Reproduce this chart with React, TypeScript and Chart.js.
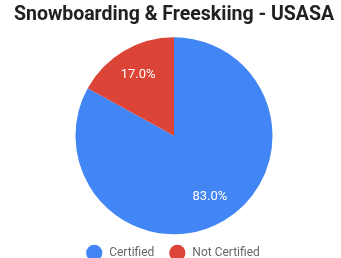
import React, { useEffect, useRef } from "react";
import { Chart, registerables } from "chart.js";

Chart.register(...registerables);

const titleText = "Snowboarding & Freeskiing - USASA";
const categories = ["Certified", "Not Certified"];
const values = [83.0, 17.0];
const colors = ["#4285f4", "#db4437"];

const pctLabels = {
  id: "pctLabels",
  afterDatasetsDraw(chart: any) {
    const { ctx } = chart;
    const meta = chart.getDatasetMeta(0);
    const data = chart.data.datasets[0].data as number[];
    const total = data.reduce((a, b) => a + b, 0);
    ctx.save();
    ctx.fillStyle = "#ffffff";
    ctx.font = "13px Roboto";
    ctx.textAlign = "center";
    ctx.textBaseline = "middle";
    meta.data.forEach((arc: any, i: number) => {
      const { x, y, startAngle, endAngle, outerRadius } = arc.getProps(
        ["x", "y", "startAngle", "endAngle", "outerRadius"],
        true
      );
      const mid = (startAngle + endAngle) / 2;
      const r = outerRadius * 0.715;
      const pct = ((data[i] / total) * 100).toFixed(1) + "%";
      ctx.fillText(pct, x + Math.cos(mid) * r, y + Math.sin(mid) * r);
    });
    ctx.restore();
  },
};

export default function App() {
  const ref = useRef<HTMLCanvasElement | null>(null);
  useEffect(() => {
    if (!ref.current) return;
    const chart = new Chart(ref.current, {
      type: "pie",
      data: {
        labels: categories,
        datasets: [
          {
            data: values,
            backgroundColor: colors,
            borderWidth: 0,
            radius: 98.5,
            clip: false,
          } as any,
        ],
      },
      options: {
        animation: false,
        responsive: false,
        maintainAspectRatio: false,
        layout: { padding: { top: 0, bottom: 0, left: 7, right: 0 } },
        plugins: {
          title: {
            display: true,
            text: titleText,
            color: "#212121",
            font: { family: "Roboto", size: 19.5, weight: "bold" },
            padding: { top: 3.3, bottom: 16.8 },
          },
          legend: {
            position: "bottom",
            title: {
              display: true,
              text: " ",
              font: { size: 1 },
              padding: 0.4,
            },
            labels: {
              usePointStyle: true,
              pointStyle: "circle",
              boxWidth: 12,
              boxHeight: 11.5,
              padding: 17,
              color: "#666666",
              font: { family: "Roboto", size: 12 },
              generateLabels(chart: any) {
                const items = Chart.overrides.pie.plugins.legend.labels.generateLabels(chart);
                return items.map((it: any) => ({ ...it, text: " " + it.text }));
              },
            },
          },
          tooltip: { enabled: false },
        },
      },
      plugins: [pctLabels],
    });
    return () => chart.destroy();
  }, []);
  return (
    <div
      style={{
        position: "absolute",
        left: 0,
        top: 0,
        width: 341,
        height: 258,
        overflow: "hidden",
        background: "#fff",
      }}
    >
      <canvas ref={ref} width={341} height={269} style={{ display: "block" }} />
    </div>
  );
}
